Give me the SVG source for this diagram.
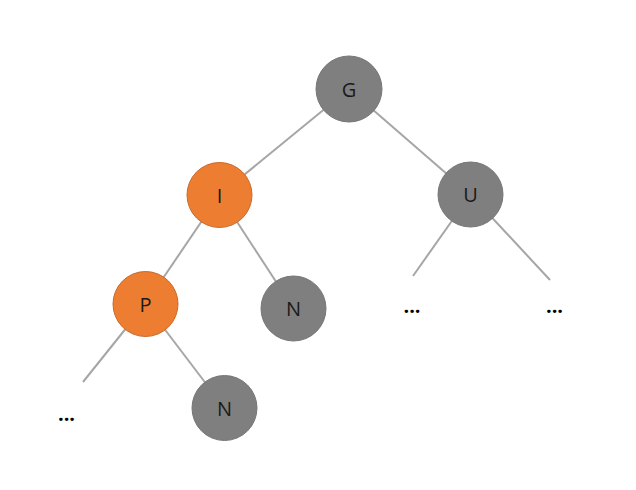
<svg xmlns="http://www.w3.org/2000/svg" width="636" height="490" viewBox="0 0 636 490">
<style>
.edge{stroke:#a6a6a6;stroke-width:2;fill:none}
.gray{fill:#7f7f7f;stroke:#767676;stroke-width:1}
.orange{fill:#ed7d31;stroke:#c9692a;stroke-width:1}
.lbl{font-family:"Open Sans","Noto Sans",sans-serif;font-size:20px;fill:#1a1a1a;text-anchor:middle;dominant-baseline:central}
.dots{font-family:"Open Sans","Noto Sans",sans-serif;font-size:20px;font-weight:bold;fill:#000;text-anchor:middle}
</style>
<rect width="636" height="490" fill="#fff"/>
<g id="connectors">
<line class="edge" x1="349" y1="89" x2="219.5" y2="195"/>
<line class="edge" x1="349" y1="89" x2="470.5" y2="194.5"/>
<line class="edge" x1="219.5" y1="195" x2="145.5" y2="304"/>
<line class="edge" x1="219.5" y1="195" x2="293.5" y2="308.5"/>
<line class="edge" x1="145.5" y1="304" x2="83" y2="382"/>
<line class="edge" x1="145.5" y1="304" x2="224.5" y2="408"/>
<line class="edge" x1="470.5" y1="194.5" x2="413" y2="276"/>
<line class="edge" x1="470.5" y1="194.5" x2="550" y2="280"/>
</g>
<g id="node-G"><circle class="gray" cx="349" cy="89" r="33"/><text class="lbl" x="349" y="89">G</text></g>
<g id="node-I"><circle class="orange" cx="219.5" cy="195" r="32.5"/><text class="lbl" x="219.5" y="195">I</text></g>
<g id="node-U"><circle class="gray" cx="470.5" cy="194.5" r="32.5"/><text class="lbl" x="470.5" y="194.5">U</text></g>
<g id="node-P"><circle class="orange" cx="145.5" cy="304" r="32.5"/><text class="lbl" x="145.5" y="304">P</text></g>
<g id="node-N1"><circle class="gray" cx="293.5" cy="308.5" r="32.5"/><text class="lbl" x="293.5" y="308.5">N</text></g>
<g id="node-N2"><circle class="gray" cx="224.5" cy="408" r="32.5"/><text class="lbl" x="224.5" y="408">N</text></g>
<g id="ellipses">
<text class="dots" x="412" y="313">...</text>
<text class="dots" x="554.5" y="313">...</text>
<text class="dots" x="66.5" y="421">...</text>
</g>
</svg>
